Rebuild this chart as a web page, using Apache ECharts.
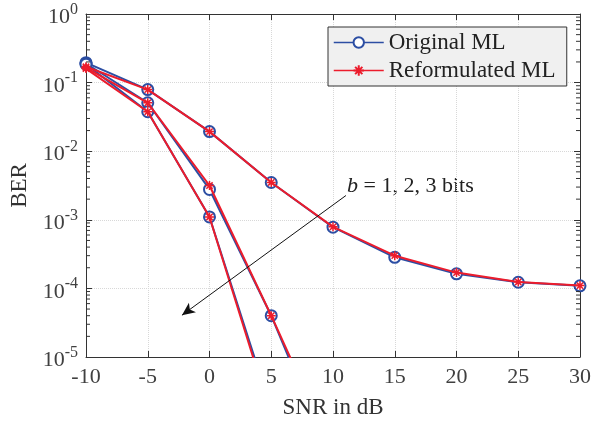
<!DOCTYPE html>
<html>
<head>
<meta charset="utf-8">
<script src="https://cdn.jsdelivr.net/npm/echarts@6/dist/echarts.min.js"></script>
<style>html,body{margin:0;padding:0;background:#fff}#c{width:601px;height:424px}</style>
</head>
<body>
<div id="c"></div>
<script>
// SNR points (dB)
const snr_b1 = [-10, -5, 0, 5, 10, 15, 20, 25, 30];
const snr_b2 = [-10, -5, 0, 5, 10];
const snr_b3 = [-10, -5, 0, 5];
// BER values, Original ML
const orig_b1 = [0.195, 0.079, 0.0193, 0.0035, 0.00078, 0.000284, 0.000163, 0.000123, 0.000109];
const orig_b2 = [0.19, 0.0508, 0.00277, 0.00004, 2.8e-7];
const orig_b3 = [0.185, 0.0376, 0.0011, 1.7e-6];
// BER values, Reformulated ML
const refo_b1 = [0.17, 0.079, 0.0193, 0.0035, 0.00079, 0.0003, 0.00017, 0.000124, 0.00011];
const refo_b2 = [0.165, 0.0508, 0.00316, 0.00004, 4.2e-7];
const refo_b3 = [0.16, 0.0376, 0.0011, 1.4e-6];
// axis ticks
const xTicks = [-10, -5, 0, 5, 10, 15, 20, 25, 30];
const yDecades = [-5, -4, -3, -2, -1, 0];
// annotation
const annotText = '{i|b} = 1, 2, 3 bits';
const arrowFrom = [11.05, 2.26e-3];
const arrowTo = [-2.23, 4.07e-5];

const FONT = 'Liberation Serif';
const BLUE = '#2c4ea3';
const RED = '#ec1c2c';
const AX = '#333333';
const starPath = 'path://M0,-10L0,10M-10,0L10,0M-7,-7L7,7M-7,7L7,-7';

function pairs(xs, ys){ return xs.map((x,i)=>[x, ys[i]]); }

const minorData = [];
for (let k = 0; k < yDecades.length - 1; k++) {
  for (let m = 2; m <= 9; m++) minorData.push([xTicks[0], m * Math.pow(10, yDecades[k])]);
}

function origSeries(xs, ys){
  return {name:'Original ML', type:'line', data:pairs(xs, ys), symbol:'emptyCircle', symbolSize:11,
    lineStyle:{color:BLUE, width:2}, itemStyle:{color:BLUE, borderColor:BLUE, borderWidth:1.6},
    z:3, clip:true, animation:false};
}
function refoSeries(xs, ys){
  return {name:'Reformulated ML', type:'line', data:pairs(xs, ys), symbol:starPath, symbolSize:9,
    lineStyle:{color:RED, width:2}, itemStyle:{color:RED, borderColor:RED, borderWidth:1.5},
    z:4, clip:true, animation:false};
}

const chart = echarts.init(document.getElementById('c'));
const tickLabel = {fontFamily:FONT, fontSize:22, color:'#404040'};
const yFmt = v => '{b|10}{s|' + Math.round(Math.log10(v)) + '}';

const series = [
  origSeries(snr_b1, orig_b1), origSeries(snr_b2, orig_b2), origSeries(snr_b3, orig_b3),
  refoSeries(snr_b1, refo_b1), refoSeries(snr_b2, refo_b2), refoSeries(snr_b3, refo_b3),
  {type:'custom', data:minorData, silent:true, clip:false, z:5, animation:false,
    renderItem:(params, api) => {
      const p = api.coord([xTicks[0], api.value(1)]);
      const q = api.coord([xTicks[xTicks.length-1], api.value(1)]);
      return {type:'group', children:[
        {type:'line', shape:{x1:p[0], y1:p[1], x2:p[0]+4, y2:p[1]}, style:{stroke:AX, lineWidth:1}},
        {type:'line', shape:{x1:q[0]-4, y1:q[1], x2:q[0], y2:q[1]}, style:{stroke:AX, lineWidth:1}}
      ]};
    }},
  {type:'line', data:[], silent:true, animation:false,
    markLine:{silent:true, animation:false, symbol:['none','arrow'], symbolSize:[9,13],
      lineStyle:{color:'#111', width:1, type:'solid'}, label:{show:false},
      data:[[{coord:arrowFrom}, {coord:arrowTo}]]}}
];

chart.setOption({
  backgroundColor:'#fff',
  animation:false,
  grid:{left:86, right:21, top:14, bottom:66},
  xAxis:[
    {type:'value', min:xTicks[0], max:xTicks[xTicks.length-1], interval:5, position:'bottom',
      name:'SNR in dB', nameLocation:'middle', nameGap:39,
      nameTextStyle:{fontFamily:FONT, fontSize:23, color:'#333'},
      axisLine:{show:true, onZero:false, lineStyle:{color:AX, width:1}},
      axisTick:{show:true, inside:true, length:6, lineStyle:{color:AX}},
      axisLabel:Object.assign({margin:9}, tickLabel),
      splitLine:{show:true, lineStyle:{color:'#d8d8d8', type:'dotted', width:1}}},
    {type:'value', min:xTicks[0], max:xTicks[xTicks.length-1], interval:5, position:'top',
      axisLine:{show:true, onZero:false, lineStyle:{color:AX, width:1}},
      axisTick:{show:true, inside:true, length:6, lineStyle:{color:AX}},
      axisLabel:{show:false}, splitLine:{show:false}}
  ],
  yAxis:[
    {type:'log', logBase:10, min:Math.pow(10, yDecades[0]), max:Math.pow(10, yDecades[yDecades.length-1]),
      splitNumber:5, position:'left',
      name:'BER', nameLocation:'middle', nameGap:51,
      nameTextStyle:{fontFamily:FONT, fontSize:23, color:'#333'},
      axisLine:{show:true, onZero:false, lineStyle:{color:AX, width:1}},
      axisTick:{show:true, inside:true, length:6, lineStyle:{color:AX}},
      axisLabel:{margin:8, formatter:yFmt, rich:{
        b:{fontFamily:FONT, fontSize:22, color:'#404040', padding:[7,0,0,0]},
        s:{fontFamily:FONT, fontSize:16, color:'#404040', padding:[0,0,9,0]}}},
      splitLine:{show:true, lineStyle:{color:'#d8d8d8', type:'dotted', width:1}}},
    {type:'log', logBase:10, min:Math.pow(10, yDecades[0]), max:Math.pow(10, yDecades[yDecades.length-1]),
      splitNumber:5, position:'right',
      axisLine:{show:true, onZero:false, lineStyle:{color:AX, width:1}},
      axisTick:{show:true, inside:true, length:6, lineStyle:{color:AX}},
      axisLabel:{show:false}, splitLine:{show:false}}
  ],
  legend:{
    data:[
      {name:'Original ML', lineStyle:{color:BLUE, width:1.5}},
      {name:'Reformulated ML', lineStyle:{color:RED, width:1.5}}
    ],
    orient:'vertical', left:328, top:27,
    backgroundColor:'#f0f0f0', borderColor:'#333', borderWidth:1, borderRadius:0,
    padding:[4, 6, 4, 5], itemWidth:50, itemHeight:13, itemGap:5,
    textStyle:{fontFamily:FONT, fontSize:23, color:'#222', width:172, lineHeight:22},
    selectedMode:false
  },
  graphic:[{type:'text', left:347, top:175, silent:true,
    style:{text:annotText, fontFamily:FONT, fontSize:22, fill:'#222',
      rich:{i:{fontFamily:FONT, fontStyle:'italic', fontSize:22, fill:'#222'}}}}],
  series:series
});
</script>
</body>
</html>
